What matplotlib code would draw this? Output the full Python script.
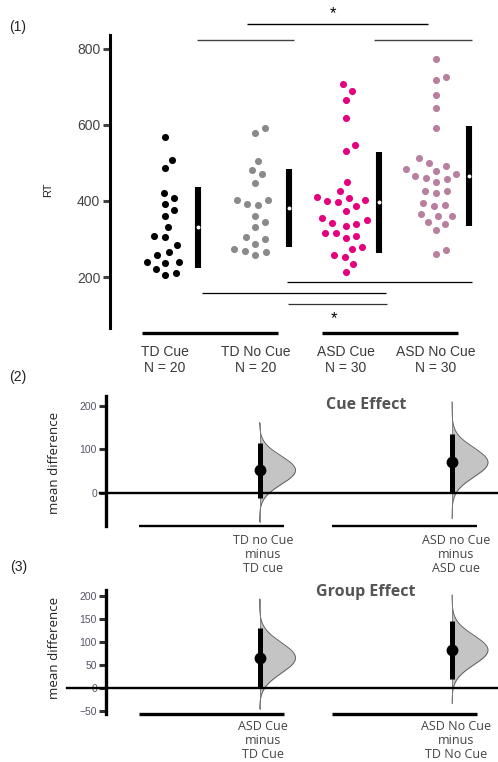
import numpy as np
import matplotlib
matplotlib.use("Agg")
import matplotlib.pyplot as plt

# ---------------- data ----------------
groups = ["TD Cue", "TD No Cue", "ASD Cue", "ASD No Cue"]
group_n = [20, 20, 30, 30]
td_cue = [569, 508, 486, 409, 421, 392, 376, 360, 332, 304, 307, 284, 265, 258,
          238, 239, 239, 221, 211, 206]
td_nocue = [591, 580, 505, 481, 470, 447, 393, 403, 403, 389, 361, 345, 332, 301,
            304, 288, 274, 266, 268, 257]
asd_cue = [708, 689, 665, 619, 547, 532, 449, 426, 411, 408, 403, 397, 399, 386,
           375, 354, 349, 340, 342, 334, 315, 315, 307, 303, 280, 274, 259, 252,
           234, 213]
asd_nocue = [773, 727, 718, 679, 644, 591, 512, 501, 492, 483, 479, 466, 460, 471,
             457, 450, 427, 427, 420, 390, 387, 396, 366, 360, 361, 345, 339, 324,
             271, 261]
group_mean = [332, 382, 397, 466]
group_low = [225, 279, 262, 334]
group_high = [438, 485, 529, 598]
rt_ticks = [200, 400, 600, 800]

cue_labels = ["TD no Cue\nminus\nTD cue", "ASD no Cue\nminus\nASD cue"]
cue_mean = [52, 70]
cue_low = [-13, 2]
cue_high = [115, 135]
cue_tail_low = [-67, -59]
cue_tail_high = [162, 210]
cue_ticks = [0, 100, 200]

grp_labels = ["ASD Cue\nminus\nTD Cue", "ASD No Cue\nminus\nTD No Cue"]
grp_mean = [65, 82]
grp_low = [0, 20]
grp_high = [131, 146]
grp_tail_low = [-46, -34]
grp_tail_high = [193, 202]
grp_ticks = [-50, 0, 50, 100, 150, 200]

# ---------------- style ----------------
colors = ["#000000", "#8a8a8a", "#e5007e", "#b97f9f"]
SANS = ["Liberation Sans", "DejaVu Sans"]
MYR = ["Open Sans", "DejaVu Sans"]
plt.rcParams["font.family"] = SANS

W, H = 498, 762
fig = plt.figure(figsize=(W / 100, H / 100), dpi=100)


def add_ax(x0, y0, x1, y1):
    return fig.add_axes([x0 / W, 1 - y1 / H, (x1 - x0) / W, (y1 - y0) / H])


def swarm_offsets(vals, diam_px, xscale, yscale):
    vals = np.asarray(vals, float)
    order = np.argsort(vals)
    placed = []  # (xpx, ypx)
    off = np.zeros(len(vals))
    for i in order:
        y = vals[i] * yscale
        cands = [0.0]
        for (px, py) in placed:
            dy = abs(py - y)
            if dy < diam_px:
                dx = np.sqrt(diam_px ** 2 - dy ** 2)
                cands += [px + dx, px - dx]
        cands = sorted(cands, key=abs)
        for c in cands:
            ok = all((c - px) ** 2 + (y - py) ** 2 >= diam_px ** 2 - 1e-6
                     for (px, py) in placed)
            if ok:
                break
        placed.append((c, y))
        off[i] = c / xscale
    return off


# ---------------- panel 1 ----------------
ax1 = add_ax(110, 5, 498, 380)
XS1, YS1 = 90.3, 0.38
ax1.set_xlim((110 - 165) / XS1, (498 - 165) / XS1)
ax1.set_ylim(200 - (380 - 277) / YS1, 200 + (277 - 5) / YS1)
for s in ["top", "right", "bottom"]:
    ax1.spines[s].set_visible(False)
ax1.spines["left"].set_bounds(66, 837)
ax1.spines["left"].set_linewidth(2.2)
ax1.set_xticks([])
ax1.set_yticks(rt_ticks)
ax1.tick_params(axis="y", length=5, width=2.2, color="#444444", labelsize=10,
                labelcolor="#444444", pad=2)

data = [td_cue, td_nocue, asd_cue, asd_nocue]
for i, vals in enumerate(data):
    off = swarm_offsets(vals, 11, XS1, YS1)
    ax1.scatter(i + off, vals, s=26, color=colors[i], linewidths=0, zorder=3)
    bx = i + 0.37
    ax1.vlines(bx, group_low[i], group_high[i], color="black", lw=4.4, zorder=3)
    ax1.scatter([bx], [group_mean[i]], s=8, color="white", linewidths=0, zorder=4)
    ax1.text(i, 21, f"{groups[i]}\nN = {group_n[i]}", ha="center", va="top",
             fontsize=10, color="#3a3a3a", linespacing=1.15)

# significance lines
for (a, b, y, c, lw) in [(0.905, 2.91, 866, "black", 1.0),
                         (0.35, 1.43, 824, "#444444", 1.0),
                         (2.32, 3.40, 824, "#444444", 1.0),
                         (1.35, 3.40, 187, "black", 0.9),
                         (0.41, 2.45, 158, "black", 0.9),
                         (1.36, 2.46, 129, "#333333", 0.9),
                         (-0.25, 1.25, 53, "black", 2.4),
                         (1.74, 3.24, 53, "black", 2.4)]:
    ax1.plot([a, b], [y, y], color=c, lw=lw, solid_capstyle="butt", clip_on=False)
ax1.text(1.86, 893, "*", ha="center", va="center", fontsize=12, color="black")
ax1.text(1.875, 91, "*", ha="center", va="center", fontsize=12, color="black")

fig.text(48 / W, 1 - 190 / H, "RT", rotation=90, ha="center", va="center",
         fontsize=8, color="#222222")


# ---------------- effect panels ----------------
def effect_panel(box, zero_px, yscale, bounds, ticks, means, lows, highs,
                 tlo, thi, labels, title, title_y, zero_x0, under_lw, label_y):
    ax = add_ax(*box)
    XS = 192.5
    ax.set_xlim((box[0] - 259.5) / XS, (box[2] - 259.5) / XS)
    ax.set_ylim((zero_px - box[3]) / yscale, (zero_px - box[1]) / yscale)
    for s in ["top", "right", "bottom"]:
        ax.spines[s].set_visible(False)
    ax.spines["left"].set_bounds(*bounds)
    ax.spines["left"].set_linewidth(2.4)
    ax.set_xticks([])
    ax.set_yticks(ticks)
    ax.set_yticklabels([str(t).replace("-", "\u2212") for t in ticks])
    ax.tick_params(axis="y", length=5, width=2.2, color="#333333", labelsize=7.5,
                   labelcolor="#555566", pad=1.5)
    ax.plot([(zero_x0 - 259.5) / XS, (box[2] - 259.5) / XS], [0, 0], color="black",
            lw=1.7, clip_on=False, zorder=2)
    yb = bounds[0]
    for (a, b) in [(-0.626, 0.125), (0.377, 1.128)]:
        ax.plot([a, b], [yb, yb], color="black", lw=under_lw, clip_on=False,
                solid_capstyle="butt")
    for k in range(2):
        m = means[k]
        sd = (highs[k] - lows[k]) / 3.92
        yy = np.linspace(tlo[k], thi[k], 300)
        dens = np.exp(-0.5 * ((yy - m) / sd) ** 2)
        dens = dens / dens.max() * (36 / XS)
        ax.fill_betweenx(yy, k, k + dens, color="#c4c4c4", lw=0, zorder=1)
        ax.plot(k + dens, yy, color="#555555", lw=0.6, zorder=1)
        ax.plot([k, k], [tlo[k], thi[k]], color="#777777", lw=0.6, zorder=1)
        ax.plot([k, k], [lows[k], highs[k]], color="black", lw=3.6,
                solid_capstyle="butt", zorder=4)
        ax.plot([k], [m], "o", color="black", ms=7.5, zorder=5)
        ax.text(k + 0.02, (zero_px - label_y) / yscale, labels[k], ha="center",
                va="top", fontsize=9, color="#444444", family=MYR,
                linespacing=1.12, clip_on=False)
    ax.text((366 - 259.5) / XS, (zero_px - title_y) / yscale, title, ha="center",
            va="center", fontsize=11.5, fontweight="bold", color="#555555", family=MYR)
    return ax


effect_panel((106, 390, 498, 530), 492.7, 0.433, (-78, 223), cue_ticks,
             cue_mean, cue_low, cue_high, cue_tail_low, cue_tail_high,
             cue_labels, "Cue Effect", 405, 100, 1.7, 534)
effect_panel((106, 585, 498, 720), 687.7, 0.459, (-58, 213), grp_ticks,
             grp_mean, grp_low, grp_high, grp_tail_low, grp_tail_high,
             grp_labels, "Group Effect", 592, 67, 2.4, 720)

fig.text(55 / W, 1 - 463 / H, "mean difference", rotation=90, ha="center",
         va="center", fontsize=9.5, color="#222222", family=MYR)
fig.text(55 / W, 1 - 648 / H, "mean difference", rotation=90, ha="center",
         va="center", fontsize=9.5, color="#222222", family=MYR)

for (x, y, t) in [(18, 27, "(1)"), (18, 377, "(2)"), (19, 567, "(3)")]:
    fig.text(x / W, 1 - y / H, t, ha="center", va="center", fontsize=10,
             color="#222222")

fig.savefig("out.png", dpi=100)
